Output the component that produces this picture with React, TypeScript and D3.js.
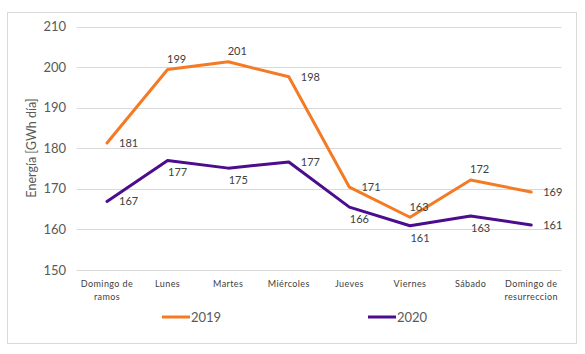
import React from "react";
import * as d3 from "d3";

const categories = [
  ["Domingo de", "ramos"],
  ["Lunes"],
  ["Martes"],
  ["Miércoles"],
  ["Jueves"],
  ["Viernes"],
  ["Sábado"],
  ["Domingo de", "resurreccion"],
];
const values2019 = [181.3, 199.4, 201.3, 197.6, 170.4, 163.0, 172.2, 169.2];
const values2020 = [166.9, 177.0, 175.1, 176.6, 165.5, 160.9, 163.3, 161.1];
const labels2019 = ["181", "199", "201", "198", "171", "163", "172", "169"];
const labels2020 = ["167", "177", "175", "177", "166", "161", "163", "161"];
const place2019 = ["r", "a", "a", "r", "r", "a", "a", "r"];
const place2020 = ["r", "b", "b", "r", "b", "b", "b", "r"];
const yTicks = [150, 160, 170, 180, 190, 200, 210];
const seriesNames = ["2019", "2020"];

const W = 585;
const H = 354;
const FONT = "Lato, 'Open Sans', sans-serif";
const ORANGE = "#F47A24";
const PURPLE = "#4B0C8E";
const GRID = "#d9d9d9";

export default function App() {
  const x = d3.scaleBand<number>().domain(d3.range(categories.length)).range([76.7, 561.5]);
  const y = d3.scaleLinear().domain([150, 210]).range([270, 26.5]);
  const cx = (i: number) => (x(i) as number) + x.bandwidth() / 2;
  const line = d3
    .line<number>()
    .x((_, i) => cx(i))
    .y((d) => y(d));

  const series = [
    { vals: values2019, labels: labels2019, place: place2019, color: ORANGE },
    { vals: values2020, labels: labels2020, place: place2020, color: PURPLE },
  ];

  const labelEl = (v: number, i: number, text: string, p: string, key: string) => {
    const px = cx(i);
    const py = y(v);
    if (p === "r")
      return (
        <text key={key} x={px + 12} y={py} dy="0.35em" textAnchor="start">
          {text}
        </text>
      );
    if (p === "a")
      return (
        <text key={key} x={px + 9} y={py - 10.5} dy="0.35em" textAnchor="middle">
          {text}
        </text>
      );
    return (
      <text key={key} x={px + 10} y={py + 12} dy="0.35em" textAnchor="middle">
        {text}
      </text>
    );
  };

  const legendItems = [
    { name: seriesNames[0], color: ORANGE, x0: 162 },
    { name: seriesNames[1], color: PURPLE, x0: 368 },
  ];

  return (
    <svg
      width={W}
      height={H}
      style={{ position: "absolute", left: 0, top: 0, background: "#fff" }}
      fontFamily={FONT}
    >
      <rect x={0} y={0} width={W} height={H} fill="#fff" />
      <rect x={7.5} y={12.5} width={569} height={331} fill="none" stroke={GRID} strokeWidth={1} />
      {yTicks.map((t) => (
        <g key={t}>
          <line x1={76.7} x2={561.5} y1={Math.round(y(t)) + 0.5} y2={Math.round(y(t)) + 0.5} stroke={GRID} strokeWidth={1} />
          <text x={66} y={y(t)} dy="0.35em" textAnchor="end" fontSize={13} fill="#595959">
            {t}
          </text>
        </g>
      ))}
      <text
        transform={`translate(32,148) rotate(-90)`}
        textAnchor="middle"
        dy="0.35em"
        fontSize={12.5}
        fill="#595959"
      >
        Energía [GWh día]
      </text>
      {categories.map((c, i) => (
        <text key={i} x={cx(i)} y={284} textAnchor="middle" fontSize={9} fill="#404040" letterSpacing={0.4}>
          {c.map((ln, j) => (
            <tspan key={j} x={cx(i)} dy={j === 0 ? "0.35em" : 13}>
              {ln}
            </tspan>
          ))}
        </text>
      ))}
      {series.map((s, k) => (
        <path
          key={k}
          d={line(s.vals) as string}
          fill="none"
          stroke={s.color}
          strokeWidth={3}
          strokeLinejoin="round"
          strokeLinecap="round"
        />
      ))}
      <g fontSize={11} fill="#404040">
        {series.map((s, k) => s.vals.map((v, i) => labelEl(v, i, s.labels[i], s.place[i], `${k}-${i}`)))}
      </g>
      {legendItems.map((l) => (
        <g key={l.name}>
          <line x1={l.x0} x2={l.x0 + 28} y1={317} y2={317} stroke={l.color} strokeWidth={3} />
          <text x={l.x0 + 29} y={317} dy="0.35em" fontSize={13} fill="#595959">
            {l.name}
          </text>
        </g>
      ))}
    </svg>
  );
}
